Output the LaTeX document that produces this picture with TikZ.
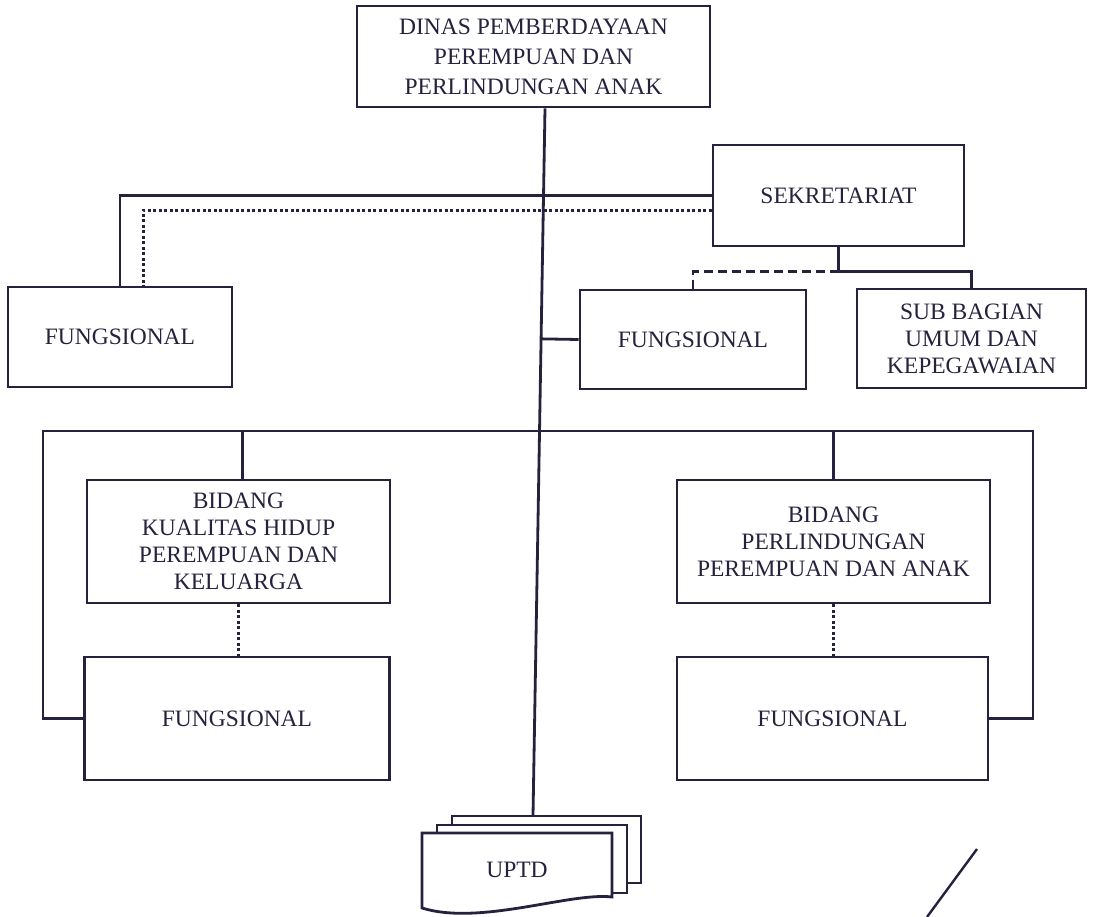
\documentclass[tikz,border=0pt]{standalone}
\usepackage{fontspec}
\setmainfont{Liberation Serif}
\usetikzlibrary{calc}
\definecolor{ink}{RGB}{38,33,60}
\begin{document}
\begin{tikzpicture}[x=1pt,y=-1pt,
  ln/.style={draw=ink, line width=2.8pt},
  bx/.style={draw=ink, line width=2.8pt, rectangle, align=center, text=ink, inner sep=0pt, font=\fontsize{23.5}{30}\selectfont},
  bxs/.style={bx, font=\fontsize{23.5}{27}\selectfont},
  dotln/.style={draw=ink, line width=3pt, dash pattern=on 3pt off 2.5pt},
  dashln/.style={draw=ink, line width=2.8pt, dash pattern=on 9pt off 5pt}]
\useasboundingbox[fill=white] (0,0) rectangle (1093,917);

% boxes
\node[bx, minimum width=353pt, minimum height=101pt] (top) at (533.5,56.5) {DINAS PEMBERDAYAAN\\PEREMPUAN DAN\\PERLINDUNGAN ANAK};
\node[bx, minimum width=251pt, minimum height=101pt] (sek) at (838.5,195.5) {SEKRETARIAT};
\node[bx, minimum width=224pt, minimum height=100pt] (fungL) at (120,337) {FUNGSIONAL};
\node[bx, minimum width=226pt, minimum height=99pt] (fungM) at (693,339.5) {FUNGSIONAL};
\node[bxs, minimum width=229pt, minimum height=99pt] (sub) at (971.5,338.5) {SUB BAGIAN\\UMUM DAN\\KEPEGAWAIAN};
\node[bxs, minimum width=303pt, minimum height=123pt] (bidL) at (238.5,541.5) {BIDANG\\KUALITAS HIDUP\\PEREMPUAN DAN\\KELUARGA};
\node[bx, minimum width=305pt, minimum height=123pt] (fungLL) at (237,718.5) {FUNGSIONAL};
\node[bxs, minimum width=313pt, minimum height=123pt] (bidR) at (833.5,541.5) {BIDANG\\PERLINDUNGAN\\PEREMPUAN DAN ANAK};
\node[bx, minimum width=311pt, minimum height=123pt] (fungRR) at (832.5,718.5) {FUNGSIONAL};

% main spine
\coordinate (mtop) at ([xshift=11.5pt]top.south);
\coordinate (mbot) at (533,816);
\draw[ln] (mtop) -- (mbot);

% sekretariat links
\draw[ln] (sek.west) -| (fungL.north);
\draw[dotln] ([yshift=-15pt]sek.west) -| ([xshift=23pt]fungL.north);
\coordinate (sj) at ($(sek.south)+(0,24)$);
\draw[ln] (sek.south) -- (sj) -| (sub.north);
\draw[dashln] (sj) -| (fungM.north);

% middle fungsional to spine
\draw[ln] (fungM.west) -- ($(mtop)!(fungM.west)!(mbot)$);

% bidang bar
\coordinate (hl) at (43,431);
\coordinate (hr) at (1033,431);
\draw[ln] (fungLL.west) -| (hl) -- (hr) |- (fungRR.east);
\draw[ln] ([xshift=4pt]bidL.north) -- ([xshift=4pt]bidL.north |- hl);
\draw[ln] (bidR.north) -- (bidR.north |- hl);
\draw[dotln] (bidL.south) -- (bidL.south |- fungLL.north);
\draw[dotln] (bidR.south) -- (bidR.south |- fungRR.north);

% UPTD stacked documents
\filldraw[ln, fill=white] (452,816) rectangle (641,883);
\filldraw[ln, fill=white] (437,825) rectangle (627,893);
\filldraw[ln, fill=white] (422,833) -- (612,833) -- (612,897) .. controls (570,892) and (480,926) .. (422,908) -- cycle;
\node[text=ink, font=\fontsize{23.5}{27}\selectfont] (uptd) at (517,870) {UPTD};

% stray stroke
\draw[ink, line width=2.4pt] (977,849) -- (927,917);
\end{tikzpicture}
\end{document}
